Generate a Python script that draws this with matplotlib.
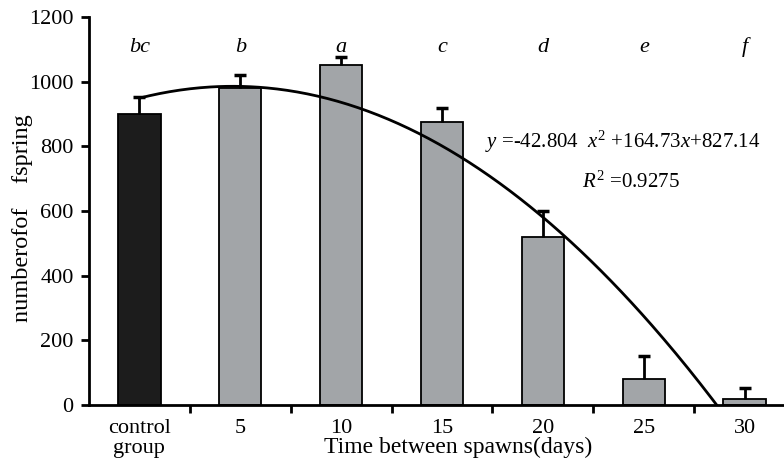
import numpy as np
import matplotlib
matplotlib.use('Agg')
import matplotlib.pyplot as plt

plt.rcParams['font.family'] = ['Liberation Serif', 'DejaVu Serif']
plt.rcParams['mathtext.fontset'] = 'custom'
plt.rcParams['mathtext.rm'] = 'Liberation Serif'
plt.rcParams['mathtext.it'] = 'Liberation Serif:italic'

# data
groups = ['control\ngroup', '5', '10', '15', '20', '25', '30']
offspring = [900, 980, 1050, 875, 520, 80, 20]
err_up = [52, 40, 27, 45, 80, 72, 32]
letters = ['bc', 'b', 'a', 'c', 'd', 'e', 'f']
# trendline coefficients as printed on the chart
coef_a, coef_b, coef_c = -42.804, 164.73, 827.14
r2 = 0.9275

bar_colors = ['#1c1c1c'] + ['#a2a5a8'] * 6

fig = plt.figure(figsize=(7.84, 4.67), dpi=100)
ax = fig.add_axes([0.1135, 0.1328, 0.8865, 0.8308])

x = np.arange(len(groups))
tops = np.array(offspring) + np.array(err_up)
ax.bar(x, offspring, width=0.42, color=bar_colors, edgecolor='black', linewidth=1.3, zorder=2)
ax.vlines(x, offspring, tops, color='black', lw=2, zorder=3)
ax.plot(x, tops, ls='none', marker='_', ms=9, mew=2.5, color='black', zorder=3)

# polynomial trendline (x = 1..7 in the fit)
xs = np.linspace(1, 7, 300)
ys = coef_a * xs ** 2 + coef_b * xs + coef_c
ax.plot(xs - 1, ys, color='black', lw=2, zorder=4)

for i, lab in enumerate(letters):
    ax.text(i, 1107, lab, ha='center', va='center', fontsize=16, style='italic')

ax.text(0.570, 0.678, r'$y$ =-42.804  $x^2$ +164.73$x$+827.14', transform=ax.transAxes,
        fontsize=15, ha='left', va='center')
ax.text(0.709, 0.575, r'$R^2$ =%.4f' % r2, transform=ax.transAxes,
        fontsize=15, ha='left', va='center')

ax.set_ylim(0, 1200)
ax.set_xlim(-0.5, 6.39)
ax.set_yticks(range(0, 1201, 200))
ax.set_xticks(x)
ax.set_xticklabels(groups, fontsize=16, linespacing=1.05)
ax.set_xticks(np.arange(0.5, 6.0, 1.0), minor=True)
ax.tick_params(axis='x', which='major', length=0, pad=10)
ax.tick_params(axis='x', which='minor', length=6, width=2, direction='out')
ax.tick_params(axis='y', labelsize=16, length=6, width=2, direction='out', pad=5)
fig.text(23 / 784, 1 - 218 / 467, 'numberofof    fspring', fontsize=17.5,
         rotation=90, ha='center', va='center')
fig.text(458 / 784, 1 - 447 / 467, 'Time between spawns(days)', fontsize=17,
         ha='center', va='center')

for s in ['top', 'right']:
    ax.spines[s].set_visible(False)
for s in ['left', 'bottom']:
    ax.spines[s].set_linewidth(2)

fig.savefig('out.png', dpi=100)
